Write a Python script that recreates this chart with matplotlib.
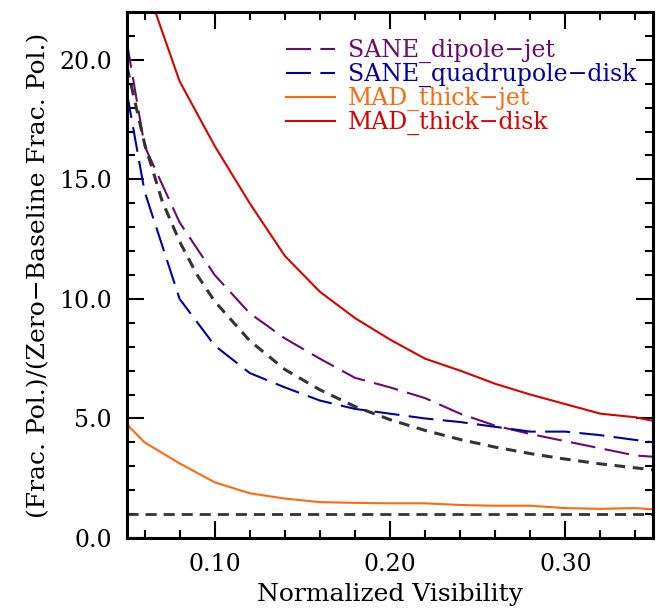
import numpy as np
import matplotlib
matplotlib.use("Agg")
from matplotlib import pyplot as plt
from matplotlib.ticker import MultipleLocator, FormatStrFormatter

# normalized visibility sample points
vis = [0.05, 0.06, 0.08, 0.10, 0.12, 0.14, 0.16, 0.18, 0.20,
       0.22, 0.24, 0.26, 0.28, 0.30, 0.32, 0.34, 0.35]

sane_dipole_jet = [20.7, 16.4, 13.2, 11.0, 9.4, 8.35, 7.5, 6.7, 6.3,
                   5.85, 5.2, 4.7, 4.35, 4.05, 3.75, 3.45, 3.4]
sane_quadrupole_disk = [18.6, 14.5, 10.0, 8.05, 6.9, 6.3, 5.75, 5.4, 5.2,
                        5.0, 4.85, 4.65, 4.45, 4.45, 4.3, 4.1, 4.0]
mad_thick_jet = [4.75, 4.0, 3.12, 2.33, 1.87, 1.65, 1.5, 1.47, 1.45,
                 1.45, 1.38, 1.35, 1.35, 1.25, 1.22, 1.25, 1.2]
mad_thick_disk = [27.0, 23.3, 19.1, 16.4, 14.0, 11.8, 10.3, 9.2, 8.3,
                  7.5, 7.0, 6.45, 6.0, 5.6, 5.2, 5.05, 4.9]

# reference curve (dashed black)
ref_vis = [0.05, 0.06, 0.07, 0.08, 0.09, 0.10, 0.12, 0.14, 0.16, 0.18,
           0.20, 0.22, 0.24, 0.26, 0.28, 0.30, 0.32, 0.35]
ref_curve = [19.7, 16.5, 14.1, 12.4, 11.0, 9.9, 8.25, 7.05, 6.2, 5.5,
             4.95, 4.5, 4.12, 3.8, 3.53, 3.3, 3.1, 2.85]
baseline_level = 1.0

labels = ["SANE_dipole\u2212jet", "SANE_quadrupole\u2212disk",
          "MAD_thick\u2212jet", "MAD_thick\u2212disk"]
colors = ["#6a0a6a", "#00009c", "#ff6a10", "#d40000"]

plt.rcParams['font.family'] = ['DejaVu Serif']

fig = plt.figure(figsize=(6.68, 6.12), dpi=100)
ax = fig.add_axes([127 / 668, 1 - 538 / 612, 526 / 668, 526 / 612])

ax.plot(vis, sane_dipole_jet, color=colors[0], lw=1.5, dashes=(12, 4.5), label=labels[0])
ax.plot(vis, sane_quadrupole_disk, color=colors[1], lw=1.5, dashes=(12, 4.5), label=labels[1])
ax.plot(vis, mad_thick_jet, color=colors[2], lw=1.5, label=labels[2])
ax.plot(vis, mad_thick_disk, color=colors[3], lw=1.5, label=labels[3])

ax.plot(ref_vis, ref_curve, color="#333333", lw=2.2, dashes=(3.5, 2.5))
ax.axhline(baseline_level, color="#333333", lw=2.0, dashes=(4, 2.5))

ax.set_xlim(0.05, 0.35)
ax.set_ylim(0, 22)
ax.xaxis.set_major_locator(MultipleLocator(0.10))
ax.xaxis.set_minor_locator(MultipleLocator(0.02))
ax.yaxis.set_major_locator(MultipleLocator(5))
ax.yaxis.set_minor_locator(MultipleLocator(1))
ax.xaxis.set_major_formatter(FormatStrFormatter("%.2f"))
ax.yaxis.set_major_formatter(FormatStrFormatter("%.1f"))

ax.tick_params(which="both", direction="in", top=True, right=True,
               width=1.5, labelsize=17, pad=11)
ax.tick_params(which="major", length=12)
ax.tick_params(which="minor", length=6)
for spine in ax.spines.values():
    spine.set_linewidth(2.2)

ax.set_xlabel("Normalized Visibility", fontsize=18, labelpad=5)
ax.set_ylabel("(Frac. Pol.)/(Zero\u2212Baseline Frac. Pol.)", fontsize=18, labelpad=6)

leg = ax.legend(loc="upper right", frameon=False, fontsize=17, handlelength=2.1,
                handletextpad=0.55, labelspacing=0.0, borderaxespad=0.4,
                bbox_to_anchor=(1.005, 0.985))
for text, c in zip(leg.get_texts(), colors):
    text.set_color(c)

fig.savefig("out.png", dpi=100)
